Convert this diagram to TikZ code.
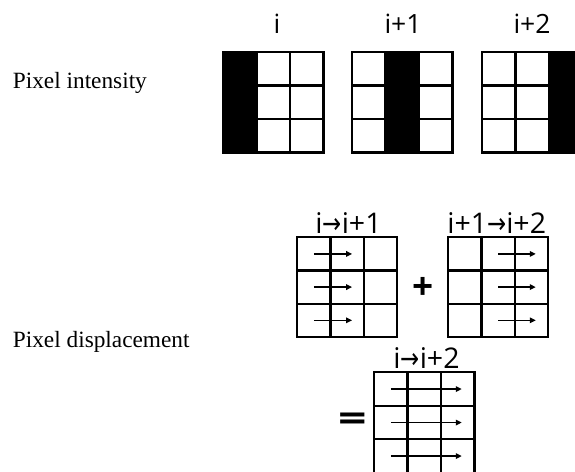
\documentclass[tikz,border=0pt]{standalone}
\usepackage{fontspec}
\setmainfont{Liberation Serif}
\newfontfamily\labelfont{Open Sans}
\newfontfamily\arrowfont{DejaVu Sans}
\usetikzlibrary{arrows.meta}

% 3x3 block of pixel cells: #1 name, #2 left, #3 top, #4 cell size
\newcommand\cellgrid[4]{%
  \foreach \r in {0,1,2}{%
    \foreach \c in {0,1,2}{%
      \node[cellbox, minimum size=#4pt] (#1-\r-\c)
        at ({#2+(\c+0.5)*#4},{#3+(\r+0.5)*#4}) {};
    }%
  }%
}
% black column of a block: #1 name, #2 column
\newcommand\darkcolumn[2]{%
  \fill[black] (#1-0-#2.north west) rectangle (#1-2-#2.south east);
}
\newcommand\ra{{\arrowfont\scalebox{0.8}[1]{→}}}

\begin{document}
\begin{tikzpicture}[x=1pt,y=-1pt,
  cellbox/.style={draw=black, line width=2.2pt, inner sep=0, outer sep=0, rectangle},
  flowarrow/.style={line width=1.5pt, -{Triangle[length=6pt,width=5.5pt]}},
  framelabel/.style={font=\labelfont\fontsize{26.5}{26.5}\selectfont, inner sep=0, anchor=base},
  steplabel/.style={font=\labelfont\fontsize{28.5}{28.5}\selectfont, inner sep=0, anchor=base},
  rowlabel/.style={font=\fontsize{23.3}{23.3}\selectfont, inner sep=0, anchor=base west},
  opsign/.style={font=\labelfont\bfseries\fontsize{37}{37}\selectfont, inner sep=0}]
\useasboundingbox (0,0) rectangle (575,471);
\clip (0,0) rectangle (575,471);

% row titles
\node[rowlabel] (intensity) at (12.7,88) {Pixel intensity};
\node[rowlabel] (displacement) at (12.7,347) {Pixel displacement};

% intensity frames
\cellgrid{fa}{223}{52}{33.5}
\cellgrid{fb}{352}{52}{33.5}
\cellgrid{fc}{482}{52}{33.5}
\darkcolumn{fa}{0}
\darkcolumn{fb}{1}
\darkcolumn{fc}{2}
\node[framelabel] (la) at (277,33.3) {i};
\node[framelabel] (lb) at (403,33.3) {i+1};
\node[framelabel] (lc) at (532,33.3) {i+2};

% displacement fields
\cellgrid{da}{297.3}{237.3}{33.2}
\cellgrid{db}{448.3}{237.3}{33.2}
\cellgrid{dc}{374}{372.3}{33.5}
\node[steplabel] (lda) at (348.5,233.5) {i\ra i+1};
\node[steplabel] (ldb) at (496.7,233.5) {i+1\ra i+2};
\node[steplabel] (ldc) at (426.5,368.3) {i\ra i+2};

\foreach \r in {0,1,2}{
  \draw[flowarrow] (da-\r-0.center) -- ([xshift=5pt]da-\r-1.center);
  \draw[flowarrow] (db-\r-1.center) -- ([xshift=4.5pt]db-\r-2.center);
  \draw[flowarrow] (dc-\r-0.center) -- ([xshift=4pt]dc-\r-2.center);
}

\node[opsign] (plus) at (423.3,288.3) {+};
\node[opsign, xscale=1.35] (equals) at (352.5,422.7) {=};
\end{tikzpicture}
\end{document}
